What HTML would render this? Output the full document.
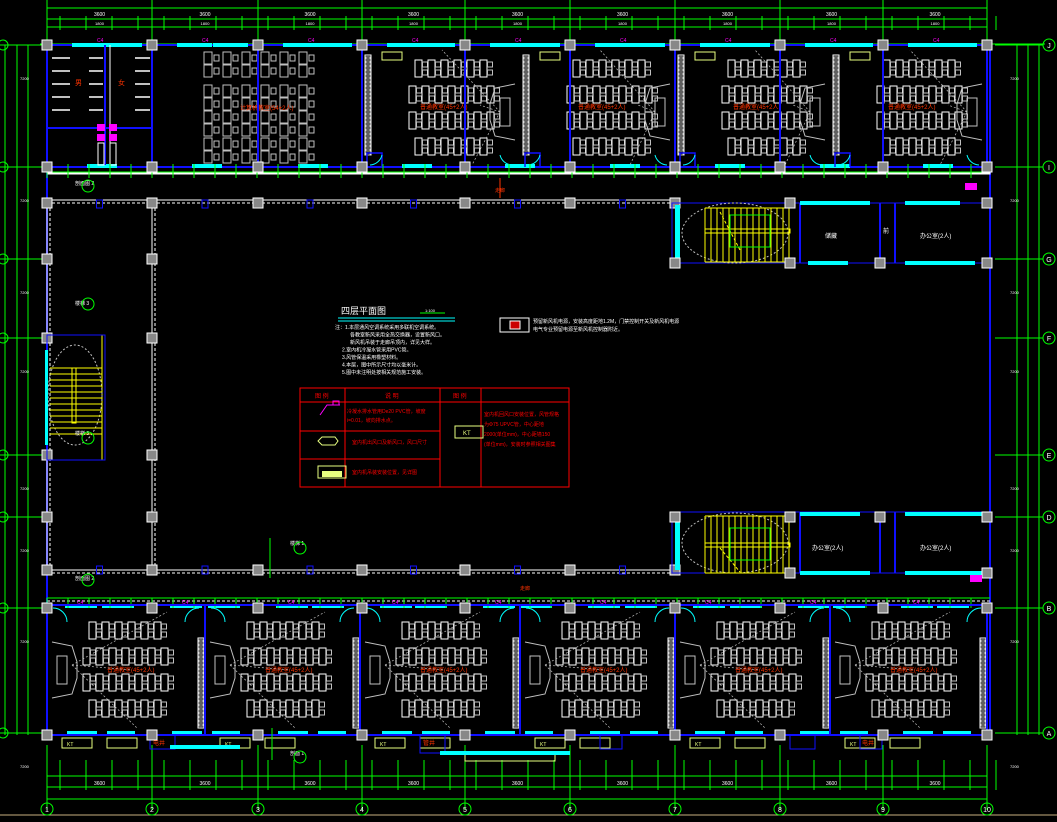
<!DOCTYPE html>
<html><head><meta charset="utf-8">
<style>html,body{margin:0;padding:0;background:#000;width:1057px;height:822px;overflow:hidden}
svg{display:block}
text{font-family:"Liberation Sans","Noto Sans CJK SC",sans-serif}</style></head>
<body>
<svg id="s" width="1057" height="822" viewBox="0 0 1057 822" xmlns="http://www.w3.org/2000/svg"></svg>
<script>
var o=[];
var G='#00ff00',B='#1010ff',C='#00ffff',W='#ffffff',GR='#c0c0c0',Y='#ffff00',LY='#e8ff80',M='#ff00ff',RD='#ff0000',OR='#ff3300';
function L(a,b,c,d,col,w,da){o.push('<line x1="'+a+'" y1="'+b+'" x2="'+c+'" y2="'+d+'" stroke="'+col+'" stroke-width="'+(w||1)+'"'+(da?' stroke-dasharray="'+da+'"':'')+'/>');}
function R(x,y,w,h,s,f,sw){o.push('<rect x="'+x+'" y="'+y+'" width="'+w+'" height="'+h+'" stroke="'+(s||'none')+'" fill="'+(f||'none')+'" stroke-width="'+(sw||1)+'"/>');}
function T(x,y,t,c,sz,a){o.push('<text x="'+x+'" y="'+y+'" fill="'+c+'" font-size="'+(sz||6)+'"'+(a?' text-anchor="'+a+'"':'')+'>'+t+'</text>');}
function Ci(x,y,r,s,f,da){o.push('<circle cx="'+x+'" cy="'+y+'" r="'+r+'" stroke="'+s+'" fill="'+(f||'none')+'"'+(da?' stroke-dasharray="'+da+'"':'')+'/>');}
function E(x,y,rx,ry,s,da){o.push('<ellipse cx="'+x+'" cy="'+y+'" rx="'+rx+'" ry="'+ry+'" stroke="'+s+'" fill="none"'+(da?' stroke-dasharray="'+da+'"':'')+'/>');}
function P(d,s,f,w){o.push('<path d="'+d+'" stroke="'+s+'" fill="'+(f||'none')+'" stroke-width="'+(w||1)+'"/>');}
var X=[47,152,258,362,465,570,675,780,883,987];
var RY={J:45,I:167,G:259,F:338,E:455,D:517,B:608,A:733};
// dimension lines top
L(47,8,987,8,G);L(47,19,987,19,G);L(47,27,987,27,G);
L(40,44,1045,44,G);
X.forEach(function(x,i){L(x,0,x,44,G);L(x,745,x,810,G);});
for(var x=47;x<987;x+=26){L(x+13,16,x+13,30,G);L(x+13,760,x+13,790,G);}
for(var i=0;i<9;i++){T((X[i]+X[i+1])/2,16,'3600',W,5,'middle');T((X[i]+X[i+1])/2,25,'1800',W,4,'middle');T((X[i]+X[i+1])/2,785,'3600',W,5,'middle');}
L(47,776,987,776,G);L(47,787,987,787,G);L(47,799,987,799,G);
L(0,815,1057,815,'#c8b080');
X.forEach(function(x,i){Ci(x,809,6,G);T(x,812,(i+1)+'',W,7,'middle');});
// right dims
[1017,1028,1039].forEach(function(x){L(x,45,x,735,G);});
for(var k in RY){var y=RY[k];L(995,y,1043,y,G);Ci(1049,y,6,G);T(1049,y+3,k,W,7,'middle');L(0,y,45,y,G);Ci(3,y,5,G);}
[5,17,28].forEach(function(x){L(x,45,x,735,G);});
for(var k in RY){T(1010,RY[k]+35,'7200',W,4);T(20,RY[k]+35,'7200',W,4);}
// top building strip walls
L(47,45,990,45,B,2);L(47,167,990,167,B,2);L(47,45,47,735,B,2);L(990,45,990,735,B,2);
// corridor lines top
L(47,172,990,172,G);R(47,173,943,1,W);
L(47,200,670,200,W);L(47,203,670,203,W,1,'3,2');
L(47,570,670,570,W);L(47,573,670,573,W,1,'3,2');
L(152,203,152,570,W);L(155,203,155,570,W,1,'3,2');
L(47,203,47,570,W);L(50,203,50,570,W,1,'3,2');
L(47,598,990,598,G);L(47,601,990,601,W,1,'3,2');
// top classroom windows
for(var i=0;i<9;i++){var a=X[i],b=X[i+1];R(a+25,43,35,4,null,C);R(b-45,43,35,4,null,C);R(a+40,164,30,4,null,C);T(a+50,42,'C4',M,5);}
// bottom windows
for(var i=0;i<9;i++){var a=X[i],b=X[i+1];R(a+18,604,32,4,null,C);R(b-50,604,32,4,null,C);R(a+20,731,30,4,null,C);R(a+60,731,28,4,null,C);T(a+30,604,'C4',M,5);}
// top left toilets
L(110,45,110,165,W);L(105,45,105,165,B,2);
for(var r=0;r<5;r++){L(52,58+r*13,70,58+r*13,GR,2);L(89,58+r*13,103,58+r*13,GR,2);L(135,58+r*13,150,58+r*13,GR,2);}
L(152,45,152,167,B,2);L(47,128,152,128,B,2);
R(97,124,8,7,null,M);R(109,124,8,7,null,M);R(97,134,8,7,null,M);R(109,134,8,7,null,M);
R(98,143,6,22,W);R(110,143,6,22,W);
T(75,85,'男',OR,7);T(118,85,'女',OR,7);
// computer room
for(var r=0;r<3;r++){var ys=[52,85,138][r],n=[2,4,2][r];for(var j=0;j<n;j++)for(var c=0;c<6;c++){var xx=204+c*19,yy=ys+j*13;R(xx,yy,8,12,GR);R(xx+10,yy+3,5,6,GR);}}
T(240,110,'计算机教室(54+2人)',OR,6);
// classrooms generator
function desks(x0,y0,flip){var rows=[0,26,52,78];rows.forEach(function(dy,ri){var n=(ri==1||ri==2)?7:6;for(var c=0;c<n;c++){var xx=x0+c*13+(n==6?6:0);R(xx,y0+dy,7,17,W);R(xx+7.5,y0+dy+2,5,5,GR);R(xx+7.5,y0+dy+10,5,5,GR);}});}
function board(x,yc,flip){var s=flip?-1:1;P('M'+x+' '+(yc-28)+' L'+(x-20*s)+' '+(yc-24)+' L'+(x-25*s)+' '+(yc-8)+' L'+(x-25*s)+' '+(yc+8)+' L'+(x-20*s)+' '+(yc+24)+' L'+x+' '+(yc+28),GR);R(Math.min(x-15*s,x-5*s),yc-14,10,28,GR);}
function proj(x1,y1,x2,y2){L(x1,y1,x2,y2,GR,0.7,'2,2');}
// top classrooms (4) between 362..987
[[362,520],[520,675],[675,830],[830,987]].forEach(function(r){var a=r[0],b=r[1];
desks(a+47,60,0);board(b-5,112,0);T(a+58,109,'普通教室(45+2人)',OR,6);
proj(b-20,112,a+80,50);proj(b-20,112,a+110,165);proj(b-20,112,a+118,105);
R(a+3,55,6,100,W);for(var yy=57;yy<155;yy+=4)R(a+4,yy,4,2,GR);
P('M'+(a+5)+' 167 L'+(a+5)+' 153 L'+(a+20)+' 153 L'+(a+20)+' 167',B,null,1.5);
P('M'+(a+8)+' 165 A13 13 0 0 0 '+(a+20)+' 155',C);P('M'+(b-8)+' 165 A13 13 0 0 1 '+(b-20)+' 155',C);
R(a+20,52,20,8,LY,null);
});
// top dim small ticks
for(var x=47;x<987;x+=21){L(x,164,x,178,G);}
for(var x=47;x<987;x+=21){L(x,598,x,608,G);}
// bottom classrooms (6)
[[47,205],[205,360],[360,520],[520,675],[675,830],[830,987]].forEach(function(r){var a=r[0],b=r[1];
desks(a+36,622,1);board(a+5,670,1);T(a+60,672,'普通教室(45+2人)',OR,6);
proj(a+25,665,a+120,612);proj(a+25,665,a+90,728);proj(a+25,665,a+85,670);
R(b-7,638,6,90,W);for(var yy=640;yy<726;yy+=4)R(b-6,yy,4,2,GR);
P('M'+(a+6)+' 608 A14 14 0 0 1 '+(a+20)+' 622',C);P('M'+(b-6)+' 608 A14 14 0 0 0 '+(b-20)+' 622',C);
L(b,605,b,735,B,2);
R(a+15,738,30,10,LY);R(a+60,738,30,10,LY);T(a+20,746,'KT',LY,5);
});
L(47,605,990,605,B,2);L(47,735,990,735,B,2);
// bottom small rooms
R(150,735,25,14,B);T(153,745,'电井',OR,6);R(420,735,25,18,B);T(423,745,'管井',OR,6);R(600,735,22,14,B);
R(790,735,25,14,B);R(860,735,22,14,B);T(862,745,'电井',OR,6);
R(465,753,90,8,LY);R(170,745,70,4,null,C);R(440,751,130,4,null,C);
// top dividing walls
X.forEach(function(x){L(x,45,x,167,B,2);});
// columns
function col(x,y){R(x-5,y-5,10,10,W,'#888');}
X.forEach(function(x){col(x,45);col(x,167);col(x,608);col(x,735);});
X.slice(0,7).forEach(function(x){col(x,203);col(x,570);});
[47,152].forEach(function(x){col(x,338);col(x,455);col(x,259);col(x,517);});
for(var i=0;i<6;i++){R((X[i]+X[i+1])/2-3,200,6,8,B);R((X[i]+X[i+1])/2-3,566,6,8,B);}
// right stair & rooms top
R(672,203,318,60,B);L(800,203,800,263,B,2);L(880,203,880,263,B,2);L(895,203,895,263,B,2);
R(675,205,5,55,null,C);
E(735,233,53,30,GR,'2,2');
for(var x=705;x<790;x+=6)L(x,208,x,262,Y);
L(705,208,790,208,Y);L(705,262,790,262,Y);R(705,229,85,4,Y,null);L(720,212,740,250,Y,1,'3,2');
R(730,215,40,32,G);
R(800,201,70,4,null,C);R(905,201,55,4,null,C);R(808,261,40,4,null,C);R(905,261,70,4,null,C);
T(825,238,'储藏',W,6);T(920,238,'办公室(2人)',W,6);T(883,233,'前',W,6);
col(675,263);col(790,263);col(880,263);col(987,263);col(790,203);col(987,203);
// right stair bottom
R(672,512,318,61,B);L(800,512,800,573,B,2);L(880,512,880,573,B,2);L(895,512,895,573,B,2);
R(675,515,5,55,null,C);
E(735,543,53,30,GR,'2,2');
for(var x=705;x<790;x+=6)L(x,516,x,573,Y);
L(705,516,790,516,Y);L(705,573,790,573,Y);R(705,543,85,4,Y,null);L(720,548,740,572,Y,1,'3,2');
R(730,528,40,32,G);
R(800,512,60,4,null,C);R(905,512,80,4,null,C);R(800,571,70,4,null,C);R(905,571,80,4,null,C);
T(812,550,'办公室(2人)',W,6);T(920,550,'办公室(2人)',W,6);
col(675,517);col(790,517);col(880,517);col(987,517);col(790,573);col(987,573);
R(970,575,12,7,null,M);R(965,183,12,7,null,M);
// left stair
R(47,335,55,125,Y);R(47,335,58,125,B);E(75,395,27,50,GR,'2,2');
for(var y=368;y<438;y+=6)L(50,y,102,y,Y);R(72,368,4,55,Y);
R(45,350,3,95,null,C);
// section labels
T(75,185,'剖面图 2',W,5);T(75,305,'楼梯 3',W,5);T(75,435,'楼梯 3',W,5);T(75,580,'剖面图 2',W,5);T(290,545,'楼梯 1',W,5);T(290,755,'剖面 1',W,5);
[[88,186],[88,304],[88,438],[88,580],[300,548],[300,757]].forEach(function(p){Ci(p[0],p[1],6,G);});
L(270,538,270,578,G);L(272,728,272,760,G);L(500,178,500,198,OR);T(495,192,'走廊',OR,5);T(520,590,'走廊',OR,5);
// notes
T(341,314,'四层平面图',W,9);L(338,318,455,318,C);L(338,321,455,321,C);L(420,313,445,313,G);T(425,312,'1:100',W,4);
var notes=['注：1.本层通风空调系统采用多联机空调系统。','各教室新风采用全热交换器，设置新风口。','新风机吊装于走廊吊顶内，详见大样。','2.室内机冷凝水管采用PVC管。','3.风管保温采用橡塑材料。','4.本层，图中所示尺寸均以毫米计。','5.图中未注明处按相关规范施工安装。'];
notes.forEach(function(n,i){T(i==0?335:(i<3?350:342),329+i*7.5,n,W,5);});
R(500,318,29,14,W);R(510,321,10,8,W,'#cc0000');
T(533,323,'预留新风机电源，安装高度距地1.2M，门禁控制开关及新风机电源',W,5);T(533,331,'电气专业预留电源至新风机控制器附近。',W,5);
// legend table
R(300,388,269,99,RD);L(300,402,569,402,RD);L(300,431,440,431,RD);L(300,459,440,459,RD);
L(345,388,345,487,RD);L(440,388,440,487,RD);L(481,388,481,487,RD);
T(315,398,'图 例',RD,6);T(385,398,'说 明',RD,6);T(453,398,'图 例',RD,6);
T(347,413,'冷凝水排水管用De20 PVC管，坡度',RD,5);T(347,422,'i=0.01，坡向排水点。',RD,5);
T(352,444,'室内机出风口及新风口，风口尺寸',RD,5);T(352,474,'室内机吊装安装位置，见详图',RD,5);
T(484,416,'室内机回风口安装位置，风管规格',RD,5);T(484,426,'为Φ75 UPVC管，中心距地',RD,5);T(484,436,'2000(单位mm)，中心距墙150',RD,5);T(484,446,'(单位mm)，安装时参照相关图集',RD,5);
P('M322 437 L335 437 L338 441 L335 445 L322 445 L318 441 Z',LY,null);P('M320 415 L327 405 L340 405',M);R(333,401,6,4,M);
R(318,466,28,12,LY);R(322,471,20,6,null,LY);R(455,426,28,12,LY,null,1);T(463,435,'KT',LY,6);
document.getElementById('s').innerHTML=o.join('');
</script>
</body></html>
